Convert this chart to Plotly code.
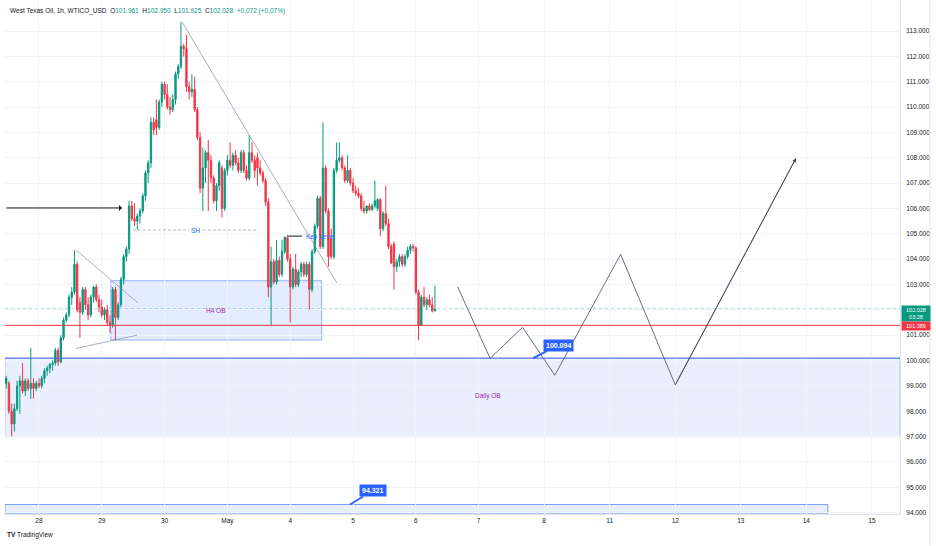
import plotly.graph_objects as go

# ---------------- data ----------------
opens = [99.1, 99.1, 98.0, 97.5, 98.1, 99.0, 99.2, 98.8, 99.2, 98.9,
         99.1, 98.9, 99.1, 99.0, 99.3, 99.6, 99.7, 99.85, 99.9, 100.4,
         99.95, 100.9, 101.6, 101.8, 102.5, 102.7, 103.8, 102.3, 101.9, 102.8,
         102.2, 101.8, 102.5, 102.9, 102.4, 102.1, 101.8, 102.0, 101.5, 101.4,
         102.8, 101.7, 102.2, 103.2, 104.1, 104.4, 106.1, 105.6, 105.5, 105.7,
         105.9, 106.5, 107.4, 107.8, 109.4, 109.5, 109.2, 110.2, 110.9, 110.5,
         110.0, 109.9, 110.3, 111.3, 111.6, 112.4, 112.3, 110.8, 110.6, 110.7,
         109.9, 108.8, 106.8, 107.6, 108.2, 107.9, 107.2, 106.3, 106.9, 107.6,
         106.0, 107.5, 107.9, 107.7, 108.1, 107.8, 107.5, 108.2, 107.5, 107.2,
         108.2, 107.9, 108.0, 107.6, 107.4, 107.1, 106.25, 102.9, 103.9, 103.1,
         103.95, 103.4, 104.3, 104.85, 104.0, 102.9, 103.6, 103.0, 103.5, 103.8,
         103.4, 103.8, 102.8, 104.3, 105.3, 106.4, 104.5, 107.6, 105.9, 104.8,
         104.1, 107.5, 107.9, 108.0, 107.6, 107.1, 107.5, 107.0, 106.7, 106.6,
         106.5, 106.0, 105.9, 106.1, 105.95, 106.1, 106.0, 106.35, 105.2, 105.8,
         105.4, 104.5, 104.6, 103.7, 103.9, 104.1, 103.8, 104.1, 104.35, 104.5,
         104.45, 102.7, 101.4, 102.5, 102.2, 102.4, 102.2, 101.961]
highs = [99.4, 99.2, 98.3, 98.3, 99.2, 99.4, 99.9, 99.3, 99.3, 100.5,
         99.3, 99.2, 99.3, 99.4, 99.7, 99.8, 99.9, 100.0, 100.5, 100.5,
         101.0, 101.7, 101.9, 102.6, 102.9, 104.35, 103.9, 102.5, 102.9, 102.9,
         102.5, 102.6, 102.95, 103.0, 102.6, 102.4, 102.1, 102.2, 101.8, 102.9,
         102.9, 102.3, 103.3, 104.2, 104.5, 106.3, 106.3, 106.2, 105.8, 106.0,
         106.6, 107.5, 107.9, 109.6, 109.6, 110.3, 110.3, 111.0, 111.0, 110.9,
         110.4, 110.5, 111.4, 111.7, 113.35, 112.5, 112.85, 111.0, 111.3, 111.2,
         110.0, 109.0, 108.4, 108.3, 108.7, 108.1, 107.3, 107.0, 107.9, 107.7,
         107.6, 108.1, 108.6, 108.2, 108.3, 108.0, 108.3, 108.3, 107.7, 108.9,
         108.6, 108.1, 108.2, 107.9, 107.5, 107.2, 106.4, 104.5, 104.0, 104.75,
         104.1, 104.75, 104.9, 104.95, 104.2, 103.7, 104.2, 103.6, 103.9, 103.9,
         103.9, 103.9, 104.4, 105.4, 106.5, 106.5, 109.4, 107.7, 106.0, 105.2,
         107.6, 108.6, 108.6, 108.1, 107.7, 108.1, 107.6, 107.2, 106.9, 106.8,
         106.6, 106.3, 106.1, 106.2, 106.2, 107.1, 106.4, 106.4, 105.9, 106.9,
         105.6, 104.6, 104.7, 104.0, 104.2, 104.2, 104.2, 104.5, 104.6, 104.6,
         104.5, 102.8, 102.6, 102.9, 102.5, 102.6, 102.5, 102.95]
lows = [98.9, 97.9, 97.0, 97.2, 98.0, 97.9, 98.7, 98.6, 98.8, 98.5,
        98.5, 98.8, 98.9, 98.9, 99.1, 99.4, 99.5, 99.6, 99.8, 99.8,
        99.9, 100.8, 101.5, 101.7, 102.2, 102.6, 101.9, 100.9, 101.8, 102.0,
        101.6, 101.7, 102.3, 102.3, 101.9, 101.7, 101.6, 101.4, 101.1, 101.3,
        100.8, 101.6, 102.1, 103.0, 103.9, 104.2, 105.5, 105.3, 105.15, 105.4,
        105.8, 106.3, 107.0, 107.6, 108.9, 108.9, 109.1, 110.0, 110.3, 109.9,
        109.7, 109.8, 110.1, 111.1, 111.5, 112.0, 110.6, 110.3, 110.4, 109.8,
        108.7, 106.6, 105.9, 107.0, 105.9, 107.0, 106.2, 105.9, 106.7, 105.65,
        105.9, 107.3, 107.6, 107.5, 107.7, 107.4, 107.4, 107.4, 107.1, 107.1,
        107.8, 107.2, 106.9, 107.3, 107.0, 106.1, 102.5, 101.4, 103.0, 103.0,
        103.3, 103.3, 104.2, 103.9, 101.5, 102.8, 102.9, 102.9, 103.3, 103.3,
        103.3, 102.0, 102.7, 104.2, 105.2, 104.4, 104.4, 105.8, 103.7, 104.0,
        104.0, 107.4, 107.8, 107.5, 107.0, 107.0, 106.9, 106.6, 106.5, 106.4,
        105.9, 105.8, 105.8, 105.9, 105.9, 106.0, 105.9, 104.9, 105.1, 105.3,
        104.4, 103.8, 102.8, 103.5, 103.7, 103.7, 103.7, 104.0, 104.2, 104.3,
        102.6, 100.8, 101.4, 102.1, 102.0, 102.1, 101.9, 101.925]
closes = [99.3, 98.0, 97.5, 98.1, 99.0, 99.2, 98.8, 99.2, 98.9, 99.1,
          98.9, 99.1, 99.0, 99.3, 99.6, 99.7, 99.85, 99.9, 100.4, 99.95,
          100.9, 101.6, 101.8, 102.5, 102.7, 103.8, 102.0, 101.9, 102.8, 102.2,
          101.8, 102.5, 102.9, 102.4, 102.1, 101.8, 102.0, 101.5, 101.4, 102.8,
          101.7, 102.2, 103.2, 104.1, 104.4, 106.1, 105.6, 105.5, 105.7, 105.9,
          106.5, 107.4, 107.8, 109.4, 109.1, 109.2, 110.2, 110.9, 110.5, 110.0,
          109.9, 110.3, 111.3, 111.6, 112.4, 112.3, 110.8, 110.6, 110.7, 109.9,
          108.8, 106.8, 107.6, 108.2, 107.9, 107.2, 106.3, 106.9, 107.8, 106.0,
          107.5, 107.9, 107.7, 108.1, 107.8, 107.5, 108.2, 107.5, 107.2, 108.2,
          107.9, 107.5, 107.6, 107.4, 107.1, 106.25, 102.9, 103.9, 103.1, 103.95,
          103.4, 104.3, 104.85, 104.0, 102.9, 103.6, 103.0, 103.5, 103.8, 103.4,
          103.8, 102.8, 104.3, 105.3, 106.4, 104.5, 107.6, 105.9, 104.1, 104.1,
          107.5, 107.9, 108.0, 107.6, 107.1, 107.5, 107.0, 106.7, 106.6, 106.5,
          106.0, 105.9, 106.1, 105.95, 106.1, 106.3, 106.35, 105.2, 105.8, 105.4,
          104.5, 103.85, 103.7, 103.9, 104.1, 103.8, 104.1, 104.35, 104.5, 104.45,
          102.7, 101.4, 102.5, 102.2, 102.4, 102.2, 101.96, 102.028]
bar_index = list(range(len(closes)))

day_tick_bars = [12, 35, 58, 81, 104, 127, 150, 173, 197, 221, 245, 269, 293, 317]
day_tick_labels = ["28", "29", "30", "May", "4", "5", "6", "7", "8", "11", "12", "13", "14", "15"]
price_ticks = list(range(94, 114))
# the 102.000 label sits under the last-price tag in the reference
price_tick_labels = ["" if p == 102 else f"{p:.3f}" for p in price_ticks]

# projected path (bar index, price)
path_x = [165.3, 177.2, 189.1, 200.9, 225.0, 245.0, 289.2]
path_y = [102.91, 100.09, 101.31, 99.42, 104.19, 99.04, 107.98]

# levels / zones
last_price = 102.028
red_level = 101.389
daily_ob_top = 100.094
daily_ob_bottom = 97.0
low_zone_top = 94.321
low_zone_end = 300.9
h4_ob_x = [38.3, 115.5]
h4_ob_y = [100.81, 103.15]
sh_level = 105.15
sh_x = [46.4, 92.2]
key_level = 104.91
key_x = [103.2, 108.3]
arrow_level = 106.02
arrow_x = [-0.44, 42.4]
trend_down = ([64.4, 121.1], [113.36, 103.06])
tri_upper = ([25.6, 48.3], [104.36, 102.27])
tri_lower = ([25.6, 47.9], [100.48, 101.0])

X_RANGE = [-0.44, 327.3]
Y_RANGE = [93.947, 114.223]

GREEN = "#089981"
RED = "#f23645"
BLUE = "#2962ff"
TXT = "#131722"
FONT = "Liberation Sans, Arial, sans-serif"

fig = go.Figure()

fig.add_trace(go.Candlestick(
    x=bar_index, open=opens, high=highs, low=lows, close=closes,
    increasing=dict(line=dict(color=GREEN, width=1), fillcolor=GREEN),
    decreasing=dict(line=dict(color=RED, width=1), fillcolor=RED),
    whiskerwidth=0, showlegend=False, hoverinfo="skip",
))

# projected path
fig.add_trace(go.Scatter(x=path_x, y=path_y, mode="lines",
                         line=dict(color="#3b3f4a", width=0.75),
                         showlegend=False, hoverinfo="skip"))

# trend lines
for tx, ty in (trend_down, tri_upper, tri_lower):
    fig.add_trace(go.Scatter(x=tx, y=ty, mode="lines",
                             line=dict(color="#8a8d96", width=0.7),
                             showlegend=False, hoverinfo="skip"))

shapes = []
# Daily OB zone
shapes.append(dict(type="rect", xref="x", yref="y", x0=X_RANGE[0], x1=X_RANGE[1],
                   y0=daily_ob_bottom, y1=daily_ob_top, layer="below",
                   fillcolor="rgba(41,98,255,0.10)",
                   line=dict(color="rgba(41,98,255,0.35)", width=1)))
# low zone
shapes.append(dict(type="rect", xref="x", yref="y", x0=X_RANGE[0], x1=low_zone_end,
                   y0=Y_RANGE[0], y1=low_zone_top, layer="below",
                   fillcolor="rgba(41,98,255,0.10)",
                   line=dict(color="rgba(41,98,255,0.6)", width=1)))
# H4 OB
shapes.append(dict(type="rect", xref="x", yref="y", x0=h4_ob_x[0], x1=h4_ob_x[1],
                   y0=h4_ob_y[0], y1=h4_ob_y[1], layer="below",
                   fillcolor="rgba(41,98,255,0.13)",
                   line=dict(color="rgba(41,98,255,0.45)", width=1)))
# horizontal lines
shapes.append(dict(type="line", xref="x", yref="y", x0=X_RANGE[0], x1=X_RANGE[1],
                   y0=daily_ob_top, y1=daily_ob_top, layer="above",
                   line=dict(color="#4a70d9", width=1)))
shapes.append(dict(type="line", xref="x", yref="y", x0=X_RANGE[0], x1=X_RANGE[1],
                   y0=red_level, y1=red_level, layer="above",
                   line=dict(color=RED, width=1)))
shapes.append(dict(type="line", xref="x", yref="y", x0=X_RANGE[0], x1=X_RANGE[1],
                   y0=last_price, y1=last_price, layer="below",
                   line=dict(color=GREEN, width=0.8, dash="dot")))
# SH dashed
shapes.append(dict(type="line", xref="x", yref="y", x0=sh_x[0], x1=sh_x[1],
                   y0=sh_level, y1=sh_level, layer="above",
                   line=dict(color="#a3a6af", width=0.8, dash="3px,2px")))
# key level
shapes.append(dict(type="line", xref="x", yref="y", x0=key_x[0], x1=key_x[1],
                   y0=key_level, y1=key_level, layer="above",
                   line=dict(color="#131722", width=1)))
# right-side scale separator
shapes.append(dict(type="line", xref="paper", yref="paper", x0=1.0335, x1=1.0335,
                   y0=-0.062, y1=1, line=dict(color="#e0e3eb", width=1)))

annotations = []
# header
annotations.append(dict(
    xref="paper", yref="paper", x=0.0034, y=0.9786, xanchor="left", yanchor="middle",
    showarrow=False, font=dict(family=FONT, size=6.5, color=TXT),
    text=("West Texas Oil, 1h, WTICO_USD&nbsp;&nbsp;"
          f"O<span style='color:{GREEN}'>101.961</span>&nbsp;&nbsp;"
          f"H<span style='color:{GREEN}'>102.950</span>&nbsp;&nbsp;"
          f"L<span style='color:{GREEN}'>101.925</span>&nbsp;&nbsp;"
          f"C<span style='color:{GREEN}'>102.028</span>&nbsp;&nbsp;"
          f"<span style='color:{GREEN}'>+0.072 (+0.07%)</span>")))
# TradingView logo
annotations.append(dict(
    xref="paper", yref="paper", x=0.0, y=-0.041, xanchor="left", yanchor="middle",
    showarrow=False, font=dict(family=FONT, size=6.5, color=TXT),
    text="<b>TV</b> TradingView"))
# horizontal arrow
annotations.append(dict(
    xref="x", yref="y", axref="x", ayref="y", x=arrow_x[1], y=arrow_level,
    ax=arrow_x[0], ay=arrow_level, showarrow=True, arrowhead=1, arrowsize=1,
    arrowwidth=1, arrowcolor="#131722", text=""))
# projected arrow head
annotations.append(dict(
    xref="x", yref="y", axref="x", ayref="y", x=path_x[-1], y=path_y[-1],
    ax=path_x[-2], ay=path_y[-2], showarrow=True, arrowhead=2, arrowsize=1,
    arrowwidth=0.75, arrowcolor="#3b3f4a", text=""))
# labels
annotations.append(dict(xref="x", yref="y", x=sum(sh_x) / 2, y=sh_level,
                        text="SH", showarrow=False, bgcolor="white",
                        font=dict(family=FONT, size=6.5, color=BLUE)))
annotations.append(dict(xref="x", yref="y", x=key_x[1] + 0.6, y=key_level - 0.05,
                        text="Key Level", showarrow=False, xanchor="left",
                        font=dict(family=FONT, size=6.5, color=BLUE)))
annotations.append(dict(xref="x", yref="y", x=sum(h4_ob_x) / 2, y=sum(h4_ob_y) / 2,
                        text="H4 OB", showarrow=False,
                        font=dict(family=FONT, size=6.5, color="#9c27b0")))
annotations.append(dict(xref="x", yref="y", x=176.4, y=98.6,
                        text="Daily OB", showarrow=False,
                        font=dict(family=FONT, size=6.5, color="#9c27b0")))
# price callouts
annotations.append(dict(xref="x", yref="y", x=193.0, y=daily_ob_top,
                        text=f"<b>{daily_ob_top:.3f}</b>", showarrow=True,
                        arrowhead=0, arrowwidth=2, arrowcolor=BLUE, ax=25, ay=-13,
                        bgcolor=BLUE, borderpad=2,
                        font=dict(family=FONT, size=7, color="white")))
annotations.append(dict(xref="x", yref="y", x=125.9, y=low_zone_top,
                        text=f"<b>{low_zone_top:.3f}</b>", showarrow=True,
                        arrowhead=0, arrowwidth=2, arrowcolor=BLUE, ax=23, ay=-14,
                        bgcolor=BLUE, borderpad=2,
                        font=dict(family=FONT, size=7, color="white")))
# right scale price labels
annotations.append(dict(xref="paper", yref="y", x=1.0, y=102.0, xanchor="left",
                        yanchor="top", yshift=5, xshift=1,
                        text=f"{last_price:.3f}<br>03:28", showarrow=False,
                        bgcolor=GREEN, borderpad=1, width=26, align="center",
                        font=dict(family=FONT, size=5.5, color="white")))
annotations.append(dict(xref="paper", yref="y", x=1.0, y=red_level, xanchor="left",
                        yanchor="middle", yshift=-1, xshift=1,
                        text=f"{red_level:.3f}", showarrow=False,
                        bgcolor=RED, borderpad=1, width=26, align="center",
                        font=dict(family=FONT, size=5.5, color="white")))

fig.update_layout(
    width=936, height=546,
    margin=dict(l=5, r=36, t=0, b=32),
    paper_bgcolor="white", plot_bgcolor="white",
    shapes=shapes, annotations=annotations,
    hovermode=False, showlegend=False,
    font=dict(family=FONT, size=6.5, color=TXT),
    xaxis=dict(range=X_RANGE, rangeslider=dict(visible=False),
               tickmode="array", tickvals=day_tick_bars, ticktext=day_tick_labels,
               showgrid=True, gridcolor="#f0f3fa", gridwidth=1,
               zeroline=False, showline=True, linecolor="#e0e3eb", linewidth=1,
               ticks="", tickfont=dict(family=FONT, size=6.5, color=TXT)),
    yaxis=dict(range=Y_RANGE, side="right", tickmode="array", tickvals=price_ticks,
               ticktext=price_tick_labels, showgrid=True, gridcolor="#f0f3fa",
               gridwidth=1, zeroline=False, showline=True, linecolor="#e0e3eb",
               linewidth=1, ticks="", ticklabelstandoff=4,
               tickfont=dict(family=FONT, size=6.5, color=TXT)),
)

fig.write_html("out.html")
